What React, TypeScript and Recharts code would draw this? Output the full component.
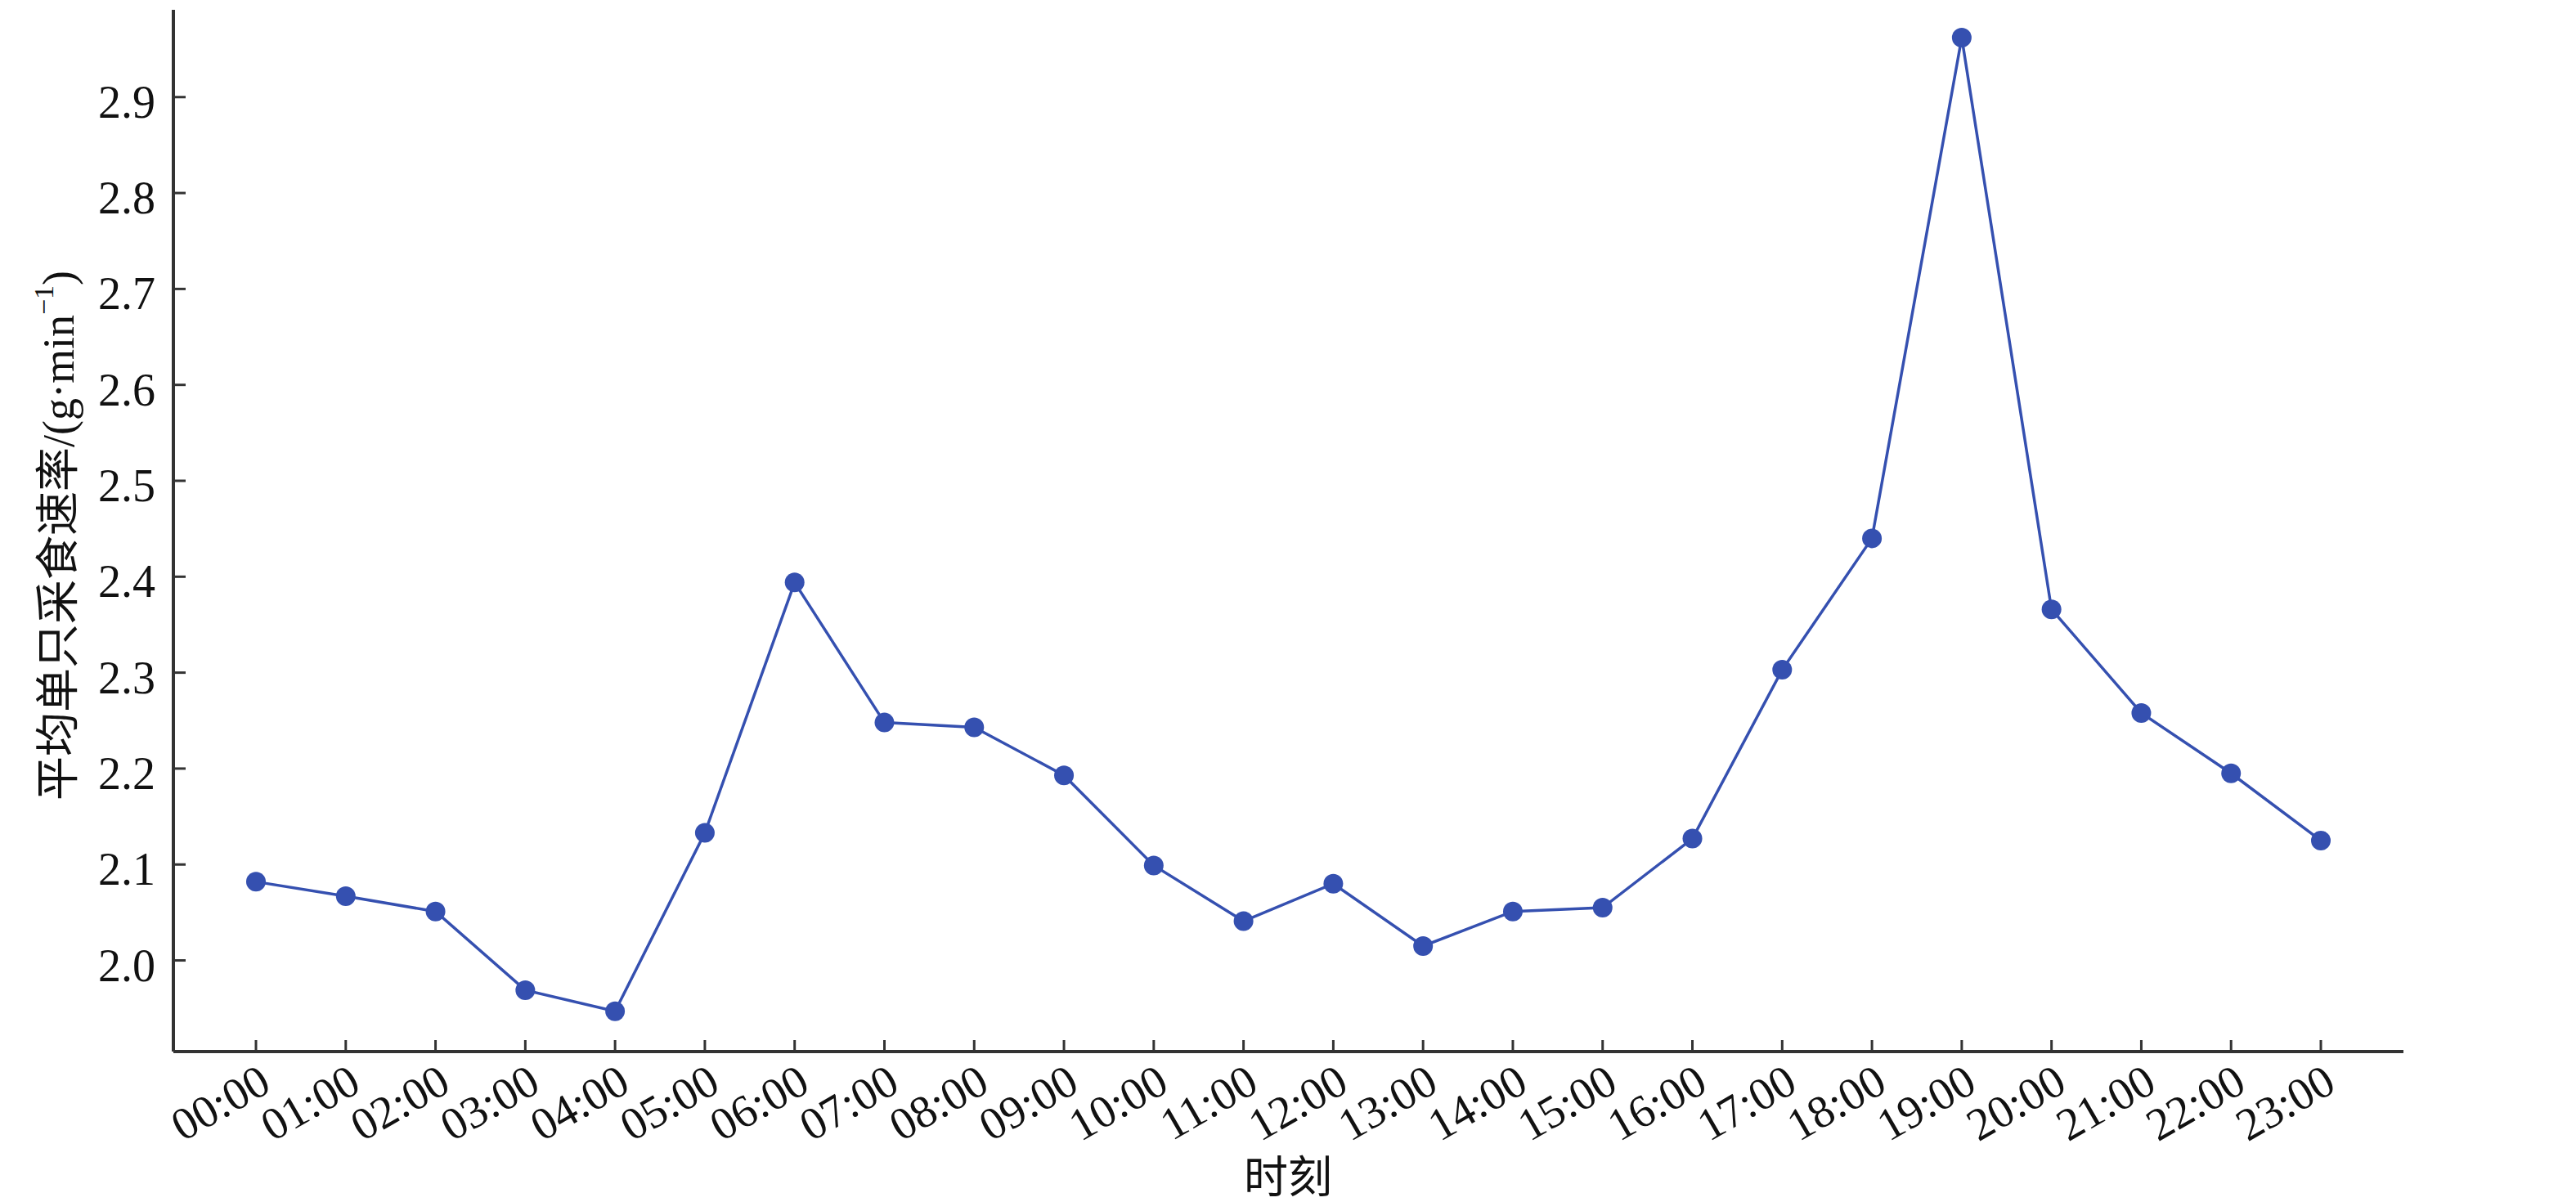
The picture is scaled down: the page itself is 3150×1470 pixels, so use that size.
import React from 'react';
import { LineChart, Line, XAxis, YAxis } from 'recharts';

const times = ['00:00','01:00','02:00','03:00','04:00','05:00','06:00','07:00','08:00','09:00','10:00','11:00','12:00','13:00','14:00','15:00','16:00','17:00','18:00','19:00','20:00','21:00','22:00','23:00'];
const rates = [2.082,2.067,2.051,1.969,1.947,2.133,2.394,2.248,2.243,2.193,2.099,2.041,2.080,2.015,2.051,2.055,2.127,2.303,2.440,2.962,2.366,2.258,2.195,2.125];
const yTicks = [2.0,2.1,2.2,2.3,2.4,2.5,2.6,2.7,2.8,2.9];

const data = times.map((t, i) => ({ time: t, rate: rates[i] }));

const FONT = "'Times New Roman', 'Liberation Serif', 'Noto Sans CJK SC', serif";
const AXIS = '#333333';
const BLUE = '#3550B0';

const XTick = (props: any) => {
  const { x, y, payload } = props;
  const tx = x + 21;
  const ty = y + 47;
  return (
    <g>
      <line x1={x} y1={y} x2={x} y2={y - 14} stroke={AXIS} strokeWidth={3} />
      <text x={tx} y={ty} transform={`rotate(-30, ${tx}, ${ty})`} textAnchor="end" fontSize={56} fontFamily={FONT} fill="#111">
        {payload.value}
      </text>
    </g>
  );
};

const YTick = (props: any) => {
  const { x, y, payload } = props;
  return (
    <g>
      <line x1={x} y1={y} x2={x + 15} y2={y} stroke={AXIS} strokeWidth={3} />
      <text x={x - 22} y={y + 25} textAnchor="end" fontSize={56} fontFamily={FONT} fill="#111">
        {Number(payload.value).toFixed(1)}
      </text>
    </g>
  );
};

const YLabel = () => (
  <text x={72} y={655} transform="rotate(-90, 72, 655)" textAnchor="middle" dominantBaseline="central" fontSize={54} fontFamily={FONT} fill="#111">
    平均单只采食速率/(g·min<tspan baselineShift="super" fontSize={34}>−1</tspan>)
  </text>
);

const XLabel = () => (
  <text x={1575} y={1459} textAnchor="middle" fontSize={54} fontFamily={FONT} fill="#111">时刻</text>
);

export default function App() {
  return (
    <div style={{ position: 'absolute', left: 0, top: 0, width: 3150, height: 1470, background: '#fff' }}>
      <LineChart width={3150} height={1470} data={data} margin={{ top: 12, right: 211, bottom: 0, left: 0 }}>
        <XAxis
          dataKey="time"
          type="category"
          interval={0}
          padding={{ left: 101, right: 101 }}
          height={184}
          axisLine={{ stroke: AXIS, strokeWidth: 4 }}
          tickLine={false}
          tickSize={0}
          tickMargin={0}
          tick={<XTick />}
          label={<XLabel />}
        />
        <YAxis
          type="number"
          domain={[1.905, 2.991]}
          ticks={yTicks}
          width={212}
          allowDataOverflow
          axisLine={{ stroke: AXIS, strokeWidth: 4 }}
          tickLine={false}
          tickSize={0}
          tickMargin={0}
          tick={<YTick />}
          label={<YLabel />}
        />
        <Line
          type="linear"
          dataKey="rate"
          stroke={BLUE}
          strokeWidth={3.5}
          dot={{ r: 12, fill: BLUE, stroke: 'none' }}
          activeDot={false}
          isAnimationActive={false}
        />
      </LineChart>
    </div>
  );
}
